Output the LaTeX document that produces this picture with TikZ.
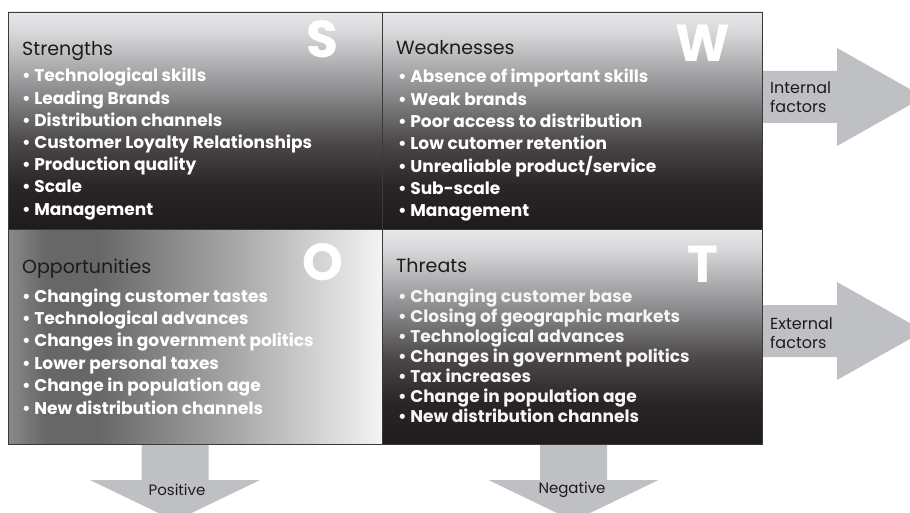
\documentclass[tikz,border=0pt]{standalone}
\usepackage{fontspec}
\setmainfont{Poppins}
\usetikzlibrary{positioning}

\definecolor{qlight}{HTML}{E8E8EA}
\definecolor{qlighttwo}{HTML}{D6D6D8}
\definecolor{qmid}{HTML}{8E8E90}
\definecolor{qmidtwo}{HTML}{4C4849}
\definecolor{qdarktwo}{HTML}{2A2627}
\definecolor{qdark}{HTML}{1F1B1C}
\definecolor{oleft}{HTML}{8A8A8A}
\definecolor{odark}{HTML}{676767}
\definecolor{omid}{HTML}{A6A6A6}
\definecolor{oright}{HTML}{F4F4F4}
\definecolor{qborder}{HTML}{3A3A3A}
\definecolor{titlegray}{HTML}{1C1C1C}
\definecolor{arrowgray}{HTML}{BFC0C4}

% top light, bottom nearly black
\pgfdeclareverticalshading{quadv}{100bp}{color(0bp)=(qdark); color(25bp)=(qdark);
  color(35bp)=(qdarktwo); color(45bp)=(qmidtwo); color(57bp)=(qmid);
  color(70bp)=(qlighttwo); color(75bp)=(qlight); color(100bp)=(qlight)}
% dark on the left, light on the right
\pgfdeclarehorizontalshading{quadh}{100bp}{color(0bp)=(oleft); color(25bp)=(oleft);
  color(30bp)=(odark); color(37bp)=(odark); color(55bp)=(omid);
  color(75bp)=(oright); color(100bp)=(oright)}

\tikzset{
  quadline/.style={draw=qborder, line width=0.8pt},
  quadtitle/.style={anchor=base west, inner sep=0pt, text=titlegray, font=\fontsize{19}{22}\selectfont},
  quaditem/.style={anchor=base west, inner sep=0pt, text=white, font=\bfseries\fontsize{17}{20}\selectfont},
  quadletter/.style={anchor=base, inner sep=0pt, text=white, font=\bfseries\fontsize{52}{56}\selectfont},
  factorlabel/.style={anchor=west, inner sep=0pt, align=left, text=titlegray, font=\fontsize{16}{19}\selectfont},
  signlabel/.style={inner sep=0pt, text=titlegray, font=\fontsize{15}{17}\selectfont},
  bigarrow/.style={fill=arrowgray, draw=none}
}

\begin{document}
\begin{tikzpicture}[x=1pt,y=-1pt]
\useasboundingbox (0,0) rectangle (910,513);
\clip (0,0) rectangle (910,513);

% Arrows behind the matrix
\fill[bigarrow] (758,71) -- (837,71) -- (837,48) -- (924,97) -- (837,146) -- (837,123) -- (758,123) -- cycle;
\fill[bigarrow] (758,305) -- (837,305) -- (837,282) -- (924,331) -- (837,380) -- (837,357) -- (758,357) -- cycle;
\fill[bigarrow] (141.5,440) -- (208.5,440) -- (208.5,480) -- (260,480) -- (175,521) -- (90,480) -- (141.5,480) -- cycle;
\fill[bigarrow] (540,440) -- (607,440) -- (607,480) -- (658.5,480) -- (573.5,521) -- (488.5,480) -- (540,480) -- cycle;

% Quadrants
\shade[shading=quadv, quadline] (8,12) rectangle (382,229);
\shade[shading=quadv, quadline] (382,12) rectangle (762,229);
\shade[shading=quadh, quadline] (8,229) rectangle (382,444);
\shade[shading=quadv, quadline] (382,229) rectangle (762,444);

% Strengths
\node[quadletter] (sletter) at (322,58) {S};
\node[quadtitle] (stitle) at (22,56) {Strengths};
\foreach \txt [count=\i from 0] in {Technological skills, Leading Brands, Distribution channels,
  Customer Loyalty Relationships, Production quality, Scale, Management}
  \node[quaditem] (s\i) at (22,82+22.2*\i) {\textbullet\ \txt};

% Weaknesses
\node[quadletter] (wletter) at (703,62) {W};
\node[quadtitle] (wtitle) at (396,55) {Weaknesses};
\foreach \txt [count=\i from 0] in {Absence of important skills, Weak brands, Poor access to distribution,
  Low cutomer retention, Unrealiable product/service, Sub-scale, Management}
  \node[quaditem] (w\i) at (398,83+22.3*\i) {\textbullet\ \txt};

% Opportunities
\node[quadletter] (oletter) at (323,280) {O};
\node[quadtitle] (otitle) at (22,273) {Opportunities};
\foreach \txt [count=\i from 0] in {Changing customer tastes, Technological advances,
  Changes in government politics, Lower personal taxes, Change in population age,
  New distribution channels}
  \node[quaditem] (o\i) at (22,302+22.4*\i) {\textbullet\ \txt};

% Threats
\node[quadletter] (tletter) at (703,282) {T};
\node[quadtitle] (ttitle) at (396,272) {Threats};
\foreach \txt [count=\i from 0] in {Changing customer base, Closing of geographic markets,
  Technological advances, Changes in government politics, Tax increases,
  Change in population age, New distribution channels}
  \node[quaditem, text=gray!8] (t\i) at (398,302+20*\i) {\textbullet\ \txt};

% Arrow labels
\node[factorlabel] (internal) at (770,97) {Internal\\factors};
\node[factorlabel] (external) at (770,333) {External\\factors};
\node[signlabel] (positive) at (177,490) {Positive};
\node[signlabel] (negative) at (572,490) {Negative};
\end{tikzpicture}
\end{document}
